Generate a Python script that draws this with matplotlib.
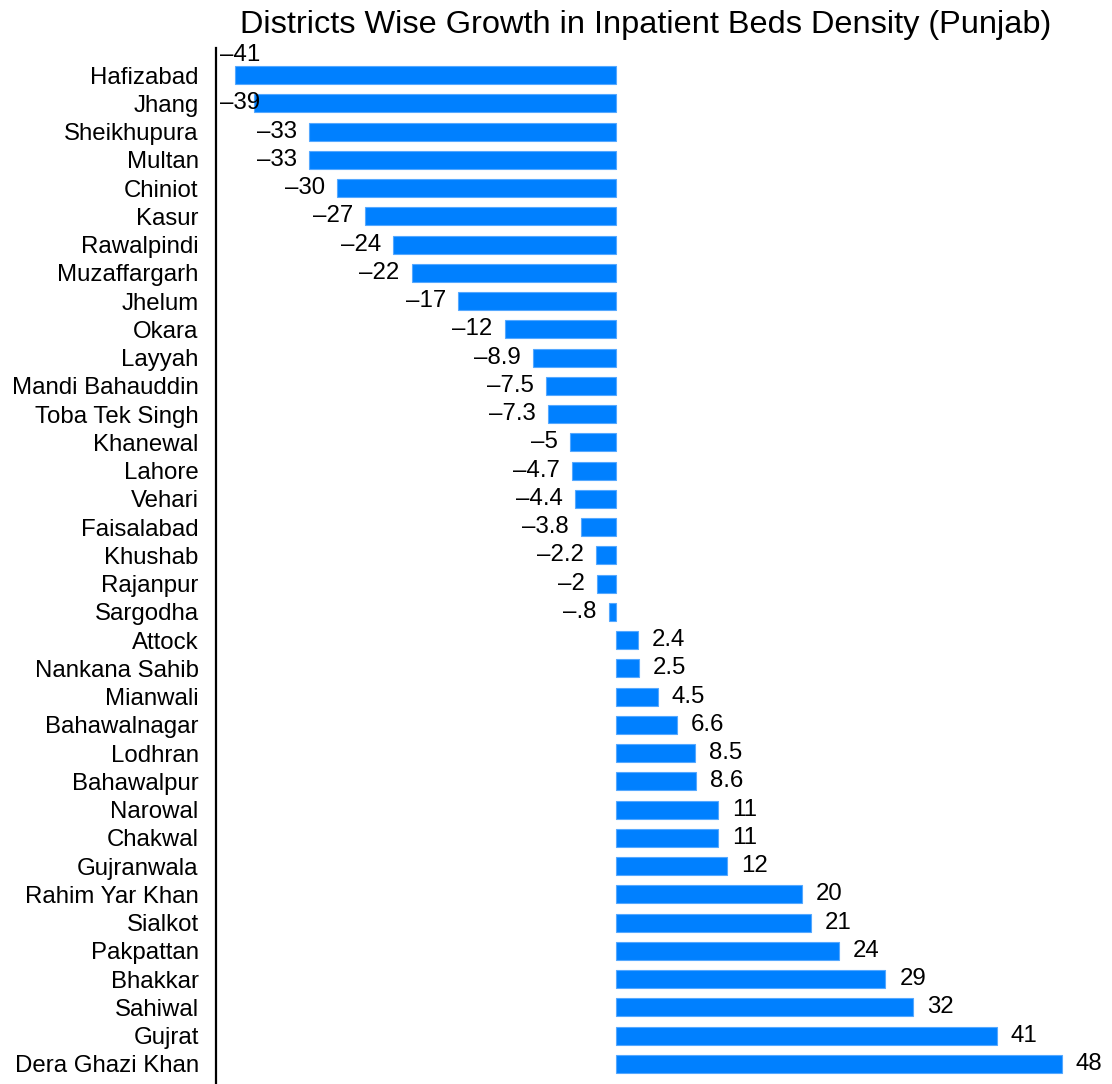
import matplotlib.pyplot as plt
import numpy as np

plt.rcParams['font.family'] = ['Liberation Sans', 'DejaVu Sans']

districts = ['Hafizabad', 'Jhang', 'Sheikhupura', 'Multan', 'Chiniot', 'Kasur',
             'Rawalpindi', 'Muzaffargarh', 'Jhelum', 'Okara', 'Layyah',
             'Mandi Bahauddin', 'Toba Tek Singh', 'Khanewal', 'Lahore', 'Vehari',
             'Faisalabad', 'Khushab', 'Rajanpur', 'Sargodha', 'Attock',
             'Nankana Sahib', 'Mianwali', 'Bahawalnagar', 'Lodhran', 'Bahawalpur',
             'Narowal', 'Chakwal', 'Gujranwala', 'Rahim Yar Khan', 'Sialkot',
             'Pakpattan', 'Bhakkar', 'Sahiwal', 'Gujrat', 'Dera Ghazi Khan']
growth = [-41, -39, -33, -33, -30, -27, -24, -22, -17, -12, -8.9, -7.5, -7.3,
          -5, -4.7, -4.4, -3.8, -2.2, -2, -0.8, 2.4, 2.5, 4.5, 6.6, 8.5, 8.6,
          11, 11, 12, 20, 21, 24, 29, 32, 41, 48]
labels = ['–41', '–39', '–33', '–33', '–30', '–27', '–24', '–22', '–17', '–12',
          '–8.9', '–7.5', '–7.3', '–5', '–4.7', '–4.4', '–3.8', '–2.2', '–2',
          '–.8', '2.4', '2.5', '4.5', '6.6', '8.5', '8.6', '11', '11', '12',
          '20', '21', '24', '29', '32', '41', '48']

BLUE = '#0080ff'
FS = 17.3

fig = plt.figure(figsize=(11.12, 10.84), dpi=100)
ax = fig.add_axes([216 / 1112, 0, 896 / 1112, 1 - 48 / 1084])

y = np.arange(len(districts))
ax.barh(y, growth, height=0.64, color=BLUE, edgecolor='#55a8ff', linewidth=0.8)

xmin, xmax = -43.06, 53.4
ax.set_xlim(xmin, xmax)
ax.set_ylim(len(districts) - 1 + 0.71, -0.96)

ax.set_yticks(y)
ax.set_yticklabels(districts, fontsize=FS)
ax.tick_params(axis='y', length=0, pad=12.5)
ax.set_xticks([])
for s in ['top', 'right', 'bottom']:
    ax.spines[s].set_visible(False)
ax.spines['left'].set_linewidth(1.6)

# value labels outside the bar ends
off = 1.3
lab_w = 4.1
for i, (v, t) in enumerate(zip(growth, labels)):
    if v >= 0:
        ax.text(v + 1.5, i, t, ha='left', va='center', fontsize=FS)
    else:
        right = v - off
        if right - lab_w < xmin:
            left = xmin + 0.4
            dy = 0
            if left + lab_w - v > 1.0:
                dy = -0.7
            ax.text(left, i + dy, t, ha='left', va='center', fontsize=FS)
        else:
            ax.text(right, i, t, ha='right', va='center', fontsize=FS)

fig.text(646 / 1112, 1 - 25 / 1084, 'Districts Wise Growth in Inpatient Beds Density (Punjab)',
         ha='center', va='center', fontsize=23.4)

fig.savefig('out.png', dpi=100)
